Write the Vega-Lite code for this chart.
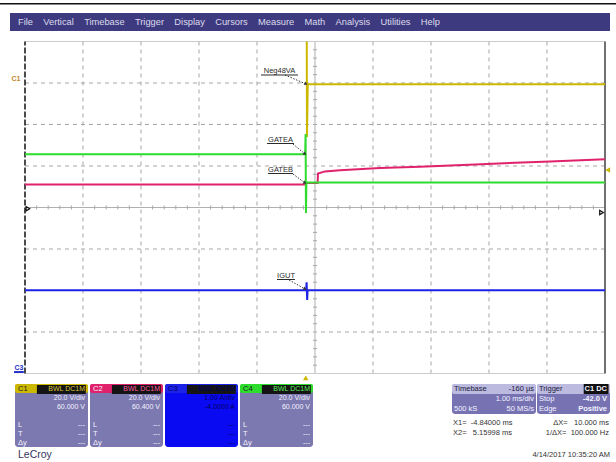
{
  "$schema": "https://vega.github.io/schema/vega-lite/v6.json",
  "padding": 0,
  "background": "white",
  "spacing": 0,
  "config": {"view": {"stroke": null}, "font": "Liberation Sans"},
  "datasets": {
    "traces": [
      {"ch": "C1", "t": 0.018, "v": 4.0},
      {"ch": "C1", "t": 0.022, "v": 1.7},
      {"ch": "C1", "t": 0.035, "v": 2.97},
      {"ch": "C1", "t": 5.16, "v": 2.97},
      {"ch": "C2", "t": -4.84, "v": 0.554},
      {"ch": "C2", "t": -0.005, "v": 0.554},
      {"ch": "C2", "t": 0.01, "v": 0.59},
      {"ch": "C2", "t": 0.205, "v": 0.59},
      {"ch": "C2", "t": 0.212, "v": 0.82},
      {"ch": "C2", "t": 0.332, "v": 0.87},
      {"ch": "C2", "t": 0.591, "v": 0.9},
      {"ch": "C2", "t": 1.281, "v": 0.95},
      {"ch": "C2", "t": 1.97, "v": 0.98},
      {"ch": "C2", "t": 3.126, "v": 1.05},
      {"ch": "C2", "t": 4.212, "v": 1.11},
      {"ch": "C2", "t": 5.16, "v": 1.16},
      {"ch": "C3", "t": -4.84, "v": -1.995},
      {"ch": "C3", "t": 0.008, "v": -1.995},
      {"ch": "C3", "t": 0.015, "v": -1.8},
      {"ch": "C3", "t": 0.025, "v": -2.23},
      {"ch": "C3", "t": 0.032, "v": -1.995},
      {"ch": "C3", "t": 5.16, "v": -1.995},
      {"ch": "C4", "t": -4.84, "v": 1.282},
      {"ch": "C4", "t": -0.01, "v": 1.282},
      {"ch": "C4", "t": -0.002, "v": 1.77},
      {"ch": "C4", "t": 0.004, "v": -0.13},
      {"ch": "C4", "t": 0.012, "v": 0.6},
      {"ch": "C4", "t": 5.16, "v": 0.6}
    ],
    "grid": [
      {"kind": "div", "t": -3.84, "t2": -3.84, "v": -4, "v2": 4},
      {"kind": "div", "t": -2.84, "t2": -2.84, "v": -4, "v2": 4},
      {"kind": "div", "t": -1.84, "t2": -1.84, "v": -4, "v2": 4},
      {"kind": "div", "t": -0.84, "t2": -0.84, "v": -4, "v2": 4},
      {"kind": "div", "t": 1.16, "t2": 1.16, "v": -4, "v2": 4},
      {"kind": "div", "t": 2.16, "t2": 2.16, "v": -4, "v2": 4},
      {"kind": "div", "t": 3.16, "t2": 3.16, "v": -4, "v2": 4},
      {"kind": "div", "t": 4.16, "t2": 4.16, "v": -4, "v2": 4},
      {"kind": "center", "t": 0.16, "t2": 0.16, "v": -4, "v2": 4},
      {"kind": "left", "t": -4.84, "t2": -4.84, "v": -4, "v2": 4},
      {"kind": "right", "t": 5.16, "t2": 5.16, "v": -4, "v2": 4},
      {"kind": "div", "t": -4.84, "t2": 5.16, "v": -3, "v2": -3},
      {"kind": "div", "t": -4.84, "t2": 5.16, "v": -2, "v2": -2},
      {"kind": "div", "t": -4.84, "t2": 5.16, "v": -1, "v2": -1},
      {"kind": "div", "t": -4.84, "t2": 5.16, "v": 1, "v2": 1},
      {"kind": "div", "t": -4.84, "t2": 5.16, "v": 2, "v2": 2},
      {"kind": "div", "t": -4.84, "t2": 5.16, "v": 3, "v2": 3},
      {"kind": "center", "t": -4.84, "t2": 5.16, "v": 0, "v2": 0},
      {"kind": "edge", "t": -4.84, "t2": 5.16, "v": 4, "v2": 4},
      {"kind": "edge", "t": -4.84, "t2": 5.16, "v": -4, "v2": -4}
    ],
    "ticks": [
      {"o": "h", "t": -4.64, "v": 0}, {"o": "h", "t": -4.44, "v": 0}, {"o": "h", "t": -4.24, "v": 0}, {"o": "h", "t": -4.04, "v": 0},
      {"o": "h", "t": -3.64, "v": 0}, {"o": "h", "t": -3.44, "v": 0}, {"o": "h", "t": -3.24, "v": 0}, {"o": "h", "t": -3.04, "v": 0},
      {"o": "h", "t": -2.64, "v": 0}, {"o": "h", "t": -2.44, "v": 0}, {"o": "h", "t": -2.24, "v": 0}, {"o": "h", "t": -2.04, "v": 0},
      {"o": "h", "t": -1.64, "v": 0}, {"o": "h", "t": -1.44, "v": 0}, {"o": "h", "t": -1.24, "v": 0}, {"o": "h", "t": -1.04, "v": 0},
      {"o": "h", "t": -0.64, "v": 0}, {"o": "h", "t": -0.44, "v": 0}, {"o": "h", "t": -0.24, "v": 0}, {"o": "h", "t": -0.04, "v": 0},
      {"o": "h", "t": 0.36, "v": 0}, {"o": "h", "t": 0.56, "v": 0}, {"o": "h", "t": 0.76, "v": 0}, {"o": "h", "t": 0.96, "v": 0},
      {"o": "h", "t": 1.36, "v": 0}, {"o": "h", "t": 1.56, "v": 0}, {"o": "h", "t": 1.76, "v": 0}, {"o": "h", "t": 1.96, "v": 0},
      {"o": "h", "t": 2.36, "v": 0}, {"o": "h", "t": 2.56, "v": 0}, {"o": "h", "t": 2.76, "v": 0}, {"o": "h", "t": 2.96, "v": 0},
      {"o": "h", "t": 3.36, "v": 0}, {"o": "h", "t": 3.56, "v": 0}, {"o": "h", "t": 3.76, "v": 0}, {"o": "h", "t": 3.96, "v": 0},
      {"o": "h", "t": 4.36, "v": 0}, {"o": "h", "t": 4.56, "v": 0}, {"o": "h", "t": 4.76, "v": 0}, {"o": "h", "t": 4.96, "v": 0},
      {"o": "v", "t": 0.16, "v": -3.8}, {"o": "v", "t": 0.16, "v": -3.6}, {"o": "v", "t": 0.16, "v": -3.4}, {"o": "v", "t": 0.16, "v": -3.2},
      {"o": "v", "t": 0.16, "v": -2.8}, {"o": "v", "t": 0.16, "v": -2.6}, {"o": "v", "t": 0.16, "v": -2.4}, {"o": "v", "t": 0.16, "v": -2.2},
      {"o": "v", "t": 0.16, "v": -1.8}, {"o": "v", "t": 0.16, "v": -1.6}, {"o": "v", "t": 0.16, "v": -1.4}, {"o": "v", "t": 0.16, "v": -1.2},
      {"o": "v", "t": 0.16, "v": -0.8}, {"o": "v", "t": 0.16, "v": -0.6}, {"o": "v", "t": 0.16, "v": -0.4}, {"o": "v", "t": 0.16, "v": -0.2},
      {"o": "v", "t": 0.16, "v": 0.2}, {"o": "v", "t": 0.16, "v": 0.4}, {"o": "v", "t": 0.16, "v": 0.6}, {"o": "v", "t": 0.16, "v": 0.8},
      {"o": "v", "t": 0.16, "v": 1.2}, {"o": "v", "t": 0.16, "v": 1.4}, {"o": "v", "t": 0.16, "v": 1.6}, {"o": "v", "t": 0.16, "v": 1.8},
      {"o": "v", "t": 0.16, "v": 2.2}, {"o": "v", "t": 0.16, "v": 2.4}, {"o": "v", "t": 0.16, "v": 2.6}, {"o": "v", "t": 0.16, "v": 2.8},
      {"o": "v", "t": 0.16, "v": 3.2}, {"o": "v", "t": 0.16, "v": 3.4}, {"o": "v", "t": 0.16, "v": 3.6}, {"o": "v", "t": 0.16, "v": 3.8}
    ],
    "labels": [
      {"label": "Neg48VA", "t": -0.452, "v": 3.229},
      {"label": "GATEA", "t": -0.435, "v": 1.578},
      {"label": "GATEB", "t": -0.435, "v": 0.855},
      {"label": "IGUT", "t": -0.34, "v": -1.699}
    ],
    "underlines": [
      {"kind": "lbl", "t": -0.771, "t2": -0.133, "v": 3.193},
      {"kind": "lbl", "t": -0.668, "t2": -0.202, "v": 1.542},
      {"kind": "lbl", "t": -0.65, "t2": -0.219, "v": 0.819},
      {"kind": "lbl", "t": -0.495, "t2": -0.185, "v": -1.735},
      {"kind": "c3", "t": -5.03, "t2": -4.86, "v": -3.965}
    ],
    "leaders": [
      {"t": -0.357, "v": 3.193, "t2": 0.005, "v2": 2.976},
      {"t": -0.219, "v": 1.53, "t2": -0.012, "v2": 1.289},
      {"t": -0.219, "v": 0.807, "t2": -0.012, "v2": 0.59},
      {"t": -0.288, "v": -1.747, "t2": -0.012, "v2": -1.964}
    ],
    "marks": [
      {"m": "c1lbl", "txt": "C1", "t": -4.995, "v": 3.05},
      {"m": "c3lbl", "txt": "C3", "t": -4.943, "v": -3.916},
      {"m": "lefttrig", "t": -4.79, "v": -0.03},
      {"m": "rightarrow", "t": 5.1, "v": -0.12},
      {"m": "triglevel", "t": 5.207, "v": 0.904},
      {"m": "trigpos", "t": 0.0, "v": -4.108}
    ],
    "chpanel": [
      {"ch": "C1", "line": "head", "left": "C1", "right": "BWL DC1M"},
      {"ch": "C1", "line": "scale", "left": "", "right": "20.0 V/div"},
      {"ch": "C1", "line": "offset", "left": "", "right": "60.000 V"},
      {"ch": "C1", "line": "L", "left": "L", "right": "---"},
      {"ch": "C1", "line": "T", "left": "T", "right": "---"},
      {"ch": "C1", "line": "dy", "left": "Δy", "right": "---"},
      {"ch": "C2", "line": "head", "left": "C2", "right": "BWL DC1M"},
      {"ch": "C2", "line": "scale", "left": "", "right": "20.0 V/div"},
      {"ch": "C2", "line": "offset", "left": "", "right": "60.400 V"},
      {"ch": "C2", "line": "L", "left": "L", "right": "---"},
      {"ch": "C2", "line": "T", "left": "T", "right": "---"},
      {"ch": "C2", "line": "dy", "left": "Δy", "right": "---"},
      {"ch": "C3", "line": "head", "left": "C3", "right": "BWL DC1M"},
      {"ch": "C3", "line": "scale", "left": "", "right": "1.00 A/div"},
      {"ch": "C3", "line": "offset", "left": "", "right": "-4.0000 A"},
      {"ch": "C3", "line": "L", "left": "", "right": "---"},
      {"ch": "C3", "line": "T", "left": "", "right": "---"},
      {"ch": "C3", "line": "dy", "left": "", "right": "---"},
      {"ch": "C4", "line": "head", "left": "C4", "right": "BWL DC1M"},
      {"ch": "C4", "line": "scale", "left": "", "right": "20.0 V/div"},
      {"ch": "C4", "line": "offset", "left": "", "right": "60.000 V"},
      {"ch": "C4", "line": "L", "left": "L", "right": "---"},
      {"ch": "C4", "line": "T", "left": "T", "right": "---"},
      {"ch": "C4", "line": "dy", "left": "Δy", "right": "---"}
    ],
    "acq": [
      {"panel": "tb", "line": "head", "left": "Timebase", "right": "-160 µs"},
      {"panel": "tb", "line": "r2", "left": "", "right": "1.00 ms/div"},
      {"panel": "tb", "line": "r3", "left": "500 kS", "right": "50 MS/s"},
      {"panel": "trig", "line": "head", "left": "Trigger", "right": "C1 DC"},
      {"panel": "trig", "line": "r2", "left": "Stop", "right": "-42.0 V"},
      {"panel": "trig", "line": "r3", "left": "Edge", "right": "Positive"}
    ],
    "cursors": [
      {"row": "X1", "a": "X1=\u00a0\u00a0-4.84000 ms", "b": "ΔX=\u00a0\u00a0\u00a010.000 ms"},
      {"row": "X2", "a": "X2=\u00a0\u00a0\u00a05.15998 ms", "b": "1/ΔX=\u00a0\u00a0100.000 Hz"}
    ],
    "footer": [
      {"side": "left", "txt": "LeCroy"},
      {"side": "right", "txt": "4/14/2017 10:35:20 AM"}
    ]
  },
  "vconcat": [
    {"width": 616, "height": 3, "data": {"values": []}, "mark": "point", "encoding": {}},
    {"width": 616, "height": 1.5, "view": {"fill": "#111111", "stroke": null}, "data": {"values": []}, "mark": "point", "encoding": {}},
    {"width": 616, "height": 7.5, "data": {"values": []}, "mark": "point", "encoding": {}},
    {
      "spacing": 2,
      "hconcat": [
        {"width": 8, "height": 1, "data": {"values": []}, "mark": "point", "encoding": {}},
        {
          "width": 600, "height": 18,
          "view": {"fill": "#3e3a7f", "stroke": null},
          "data": {"values": [{"menu": "File\u00a0\u00a0\u00a0\u00a0Vertical\u00a0\u00a0\u00a0\u00a0Timebase\u00a0\u00a0\u00a0\u00a0Trigger\u00a0\u00a0\u00a0\u00a0Display\u00a0\u00a0\u00a0\u00a0Cursors\u00a0\u00a0\u00a0\u00a0Measure\u00a0\u00a0\u00a0\u00a0Math\u00a0\u00a0\u00a0\u00a0Analysis\u00a0\u00a0\u00a0\u00a0Utilities\u00a0\u00a0\u00a0\u00a0Help"}]},
          "mark": {"type": "text", "align": "left", "baseline": "middle", "dx": 8, "fontSize": 9.3, "color": "#dcdcee"},
          "encoding": {
            "text": {"field": "menu"},
            "x": {"datum": 0, "type": "quantitative", "scale": {"domain": [0, 1]}, "axis": null}
          }
        }
      ]
    },
    {
      "spacing": 2,
      "hconcat": [
        {"width": 8, "height": 1, "data": {"values": []}, "mark": "point", "encoding": {}},
        {
          "width": 600, "height": 353,
          "encoding": {
            "x": {"field": "t", "type": "quantitative", "scale": {"domain": [-5.09862, 5.24621], "nice": false, "zero": false}, "axis": null},
            "y": {"field": "v", "type": "quantitative", "scale": {"domain": [-4.253, 4.253], "nice": false, "zero": false}, "axis": null}
          },
          "layer": [
            {
              "data": {"name": "grid"},
              "transform": [{"filter": "datum.kind == 'div'"}],
              "mark": {"type": "rule", "color": "#a6a6a6", "strokeDash": [4, 4], "strokeWidth": 1},
              "encoding": {"x2": {"field": "t2"}, "y2": {"field": "v2"}}
            },
            {
              "data": {"name": "grid"},
              "transform": [{"filter": "datum.kind == 'center'"}],
              "mark": {"type": "rule", "color": "#b0b0b0", "strokeWidth": 1},
              "encoding": {"x2": {"field": "t2"}, "y2": {"field": "v2"}}
            },
            {
              "data": {"name": "grid"},
              "transform": [{"filter": "datum.kind == 'edge'"}],
              "mark": {"type": "rule", "color": "#cccccc", "strokeWidth": 1},
              "encoding": {"x2": {"field": "t2"}, "y2": {"field": "v2"}}
            },
            {
              "data": {"name": "grid"},
              "transform": [{"filter": "datum.kind == 'left'"}],
              "mark": {"type": "rule", "color": "#111111", "strokeDash": [6, 2], "strokeWidth": 1.5},
              "encoding": {"x2": {"field": "t2"}, "y2": {"field": "v2"}}
            },
            {
              "data": {"name": "grid"},
              "transform": [{"filter": "datum.kind == 'right'"}],
              "mark": {"type": "rule", "color": "#707070", "strokeWidth": 2},
              "encoding": {"x2": {"field": "t2"}, "y2": {"field": "v2"}}
            },
            {
              "data": {"name": "ticks"},
              "transform": [{"filter": "datum.o == 'h'"}],
              "mark": {"type": "tick", "orient": "vertical", "size": 4, "thickness": 1, "color": "#a8a8a8", "opacity": 1},
              "encoding": {}
            },
            {
              "data": {"name": "ticks"},
              "transform": [{"filter": "datum.o == 'v'"}],
              "mark": {"type": "tick", "orient": "horizontal", "size": 4, "thickness": 1, "color": "#a8a8a8", "opacity": 1},
              "encoding": {}
            },
            {
              "data": {"name": "traces"},
              "mark": {"type": "line", "strokeWidth": 2},
              "encoding": {
                "color": {"field": "ch", "type": "nominal", "scale": {"domain": ["C1", "C2", "C3", "C4"], "range": ["#cdb800", "#e0226c", "#1c22e6", "#2edc2e"]}, "legend": null}
              }
            },
            {
              "data": {"name": "labels"},
              "mark": {"type": "text", "align": "center", "baseline": "alphabetic", "fontSize": 7.5, "color": "#2a2a2a"},
              "encoding": {"text": {"field": "label"}}
            },
            {
              "data": {"name": "underlines"},
              "transform": [{"filter": "datum.kind == 'lbl'"}],
              "mark": {"type": "rule", "color": "#2a2a2a", "strokeWidth": 1},
              "encoding": {"x2": {"field": "t2"}}
            },
            {
              "data": {"name": "underlines"},
              "transform": [{"filter": "datum.kind == 'c3'"}],
              "mark": {"type": "rule", "color": "#2630c8", "strokeWidth": 2},
              "encoding": {"x2": {"field": "t2"}}
            },
            {
              "data": {"name": "leaders"},
              "mark": {"type": "rule", "color": "#333333", "strokeWidth": 1, "strokeDash": [1.5, 1.5]},
              "encoding": {"x2": {"field": "t2"}, "y2": {"field": "v2"}}
            },
            {
              "data": {"name": "leaders"},
              "mark": {"type": "point", "shape": "triangle-right", "filled": true, "size": 14, "angle": 32, "color": "#333333", "opacity": 1},
              "encoding": {
                "x": {"field": "t2", "type": "quantitative", "scale": {"domain": [-5.09862, 5.24621], "nice": false, "zero": false}, "axis": null},
                "y": {"field": "v2", "type": "quantitative", "scale": {"domain": [-4.253, 4.253], "nice": false, "zero": false}, "axis": null}
              }
            },
            {
              "data": {"name": "marks"},
              "transform": [{"filter": "datum.m == 'c1lbl'"}],
              "mark": {"type": "text", "align": "center", "baseline": "alphabetic", "fontSize": 7, "fontWeight": "bold", "color": "#c4862c"},
              "encoding": {"text": {"field": "txt"}}
            },
            {
              "data": {"name": "marks"},
              "transform": [{"filter": "datum.m == 'c3lbl'"}],
              "mark": {"type": "text", "align": "center", "baseline": "alphabetic", "fontSize": 7, "fontWeight": "bold", "color": "#2630c8"},
              "encoding": {"text": {"field": "txt"}}
            },
            {
              "data": {"name": "marks"},
              "transform": [{"filter": "datum.m == 'lefttrig' || datum.m == 'rightarrow'"}],
              "mark": {"type": "point", "shape": "triangle-right", "filled": false, "size": 18, "color": "#111111", "strokeWidth": 1.2, "opacity": 1},
              "encoding": {}
            },
            {
              "data": {"name": "marks"},
              "transform": [{"filter": "datum.m == 'triglevel'"}],
              "mark": {"type": "point", "shape": "triangle-left", "filled": true, "size": 30, "color": "#cdb800", "opacity": 1},
              "encoding": {}
            },
            {
              "data": {"name": "marks"},
              "transform": [{"filter": "datum.m == 'trigpos'"}],
              "mark": {"type": "point", "shape": "triangle-up", "filled": true, "size": 30, "color": "#cdb800", "opacity": 1},
              "encoding": {}
            }
          ]
        }
      ]
    },
    {
      "spacing": 2,
      "hconcat": [
        {"width": 13, "height": 1, "data": {"values": []}, "mark": "point", "encoding": {}},
        {
          "data": {"name": "chpanel"},
          "facet": {"column": {"field": "ch", "type": "nominal", "header": null, "sort": ["C1", "C2", "C3", "C4"]}},
          "spacing": 2,
          "spec": {
            "width": 73, "height": 63,
            "layer": [
              {
                "transform": [{"filter": "datum.line == 'head'"}],
                "mark": {"type": "rect", "cornerRadius": 3},
                "encoding": {"color": {"condition": {"test": "datum.ch == 'C3'", "value": "#0a0af2"}, "value": "#7c78b0"}}
              },
              {
                "transform": [{"filter": "datum.line == 'head'"}],
                "mark": {"type": "rect", "cornerRadius": 2},
                "encoding": {
                  "y": {"field": "line", "type": "nominal", "scale": {"domain": ["head", "scale", "offset", "gap", "L", "T", "dy"], "paddingInner": 0, "paddingOuter": 0}, "axis": null},
                  "color": {"field": "ch", "type": "nominal", "scale": {"domain": ["C1", "C2", "C3", "C4"], "range": ["#b7a523", "#e01a6e", "#1010f0", "#35d835"]}, "legend": null}
                }
              },
              {
                "transform": [{"filter": "datum.line == 'head'"}],
                "mark": {"type": "rect", "color": "#141414", "yOffset": 1, "y2Offset": -1},
                "encoding": {
                  "y": {"field": "line", "type": "nominal", "scale": {"domain": ["head", "scale", "offset", "gap", "L", "T", "dy"], "paddingInner": 0, "paddingOuter": 0}, "axis": null},
                  "x": {"datum": 0.3, "type": "quantitative", "scale": {"domain": [0, 1]}, "axis": null},
                  "x2": {"datum": 0.97}
                }
              },
              {
                "mark": {"type": "text", "align": "left", "baseline": "middle", "dx": 3, "fontSize": 7.5},
                "encoding": {
                  "y": {"field": "line", "type": "nominal", "scale": {"domain": ["head", "scale", "offset", "gap", "L", "T", "dy"], "paddingInner": 0, "paddingOuter": 0}, "axis": null},
                  "x": {"datum": 0, "type": "quantitative", "scale": {"domain": [0, 1]}, "axis": null},
                  "text": {"field": "left"},
                  "color": {"condition": [{"test": "datum.ch == 'C3'", "value": "#000060"}, {"test": "datum.line == 'head' && datum.ch != 'C2'", "value": "#1a1a1a"}], "value": "#f4f4ff"}
                }
              },
              {
                "mark": {"type": "text", "align": "right", "baseline": "middle", "dx": -3, "fontSize": 7},
                "encoding": {
                  "y": {"field": "line", "type": "nominal", "scale": {"domain": ["head", "scale", "offset", "gap", "L", "T", "dy"], "paddingInner": 0, "paddingOuter": 0}, "axis": null},
                  "x": {"datum": 1, "type": "quantitative", "scale": {"domain": [0, 1]}, "axis": null},
                  "text": {"field": "right"},
                  "color": {"condition": [
                    {"test": "datum.ch == 'C3'", "value": "#000060"},
                    {"test": "datum.line == 'head' && datum.ch == 'C1'", "value": "#d9c73c"},
                    {"test": "datum.line == 'head' && datum.ch == 'C2'", "value": "#ff5aa0"},
                    {"test": "datum.line == 'head' && datum.ch == 'C4'", "value": "#5cf05c"}
                  ], "value": "#f4f4ff"}
                }
              }
            ]
          }
        },
        {"width": 135, "height": 1, "data": {"values": []}, "mark": "point", "encoding": {}},
        {
          "spacing": 0,
          "vconcat": [
            {
              "spacing": 1,
              "hconcat": [
                {
                  "width": 84, "height": 30,
                  "data": {"name": "acq"},
                  "transform": [{"filter": "datum.panel == 'tb'"}],
                  "layer": [
                    {"transform": [{"filter": "datum.line == 'head'"}], "mark": {"type": "rect", "cornerRadius": 3, "color": "#7773b3"}, "encoding": {}},
                    {"transform": [{"filter": "datum.line == 'head'"}], "mark": {"type": "rect", "cornerRadius": 2, "color": "#bdbadf"},
                      "encoding": {"y": {"field": "line", "type": "nominal", "scale": {"domain": ["head", "r2", "r3"], "paddingInner": 0, "paddingOuter": 0}, "axis": null}}},
                    {"mark": {"type": "text", "align": "left", "baseline": "middle", "dx": 2, "fontSize": 7.5},
                      "encoding": {
                        "y": {"field": "line", "type": "nominal", "scale": {"domain": ["head", "r2", "r3"], "paddingInner": 0, "paddingOuter": 0}, "axis": null},
                        "x": {"datum": 0, "type": "quantitative", "scale": {"domain": [0, 1]}, "axis": null},
                        "text": {"field": "left"},
                        "color": {"condition": {"test": "datum.line == 'head'", "value": "#202040"}, "value": "#f4f4ff"}}},
                    {"mark": {"type": "text", "align": "right", "baseline": "middle", "dx": -2, "fontSize": 7.5},
                      "encoding": {
                        "y": {"field": "line", "type": "nominal", "scale": {"domain": ["head", "r2", "r3"], "paddingInner": 0, "paddingOuter": 0}, "axis": null},
                        "x": {"datum": 1, "type": "quantitative", "scale": {"domain": [0, 1]}, "axis": null},
                        "text": {"field": "right"},
                        "color": {"condition": {"test": "datum.line == 'head'", "value": "#202040"}, "value": "#f4f4ff"}}}
                  ]
                },
                {
                  "width": 73, "height": 30,
                  "data": {"name": "acq"},
                  "transform": [{"filter": "datum.panel == 'trig'"}],
                  "layer": [
                    {"transform": [{"filter": "datum.line == 'head'"}], "mark": {"type": "rect", "cornerRadius": 3, "color": "#7773b3"}, "encoding": {}},
                    {"transform": [{"filter": "datum.line == 'head'"}], "mark": {"type": "rect", "cornerRadius": 2, "color": "#bdbadf"},
                      "encoding": {"y": {"field": "line", "type": "nominal", "scale": {"domain": ["head", "r2", "r3"], "paddingInner": 0, "paddingOuter": 0}, "axis": null}}},
                    {"transform": [{"filter": "datum.line == 'head'"}], "mark": {"type": "rect", "color": "#111111"},
                      "encoding": {
                        "y": {"field": "line", "type": "nominal", "scale": {"domain": ["head", "r2", "r3"], "paddingInner": 0, "paddingOuter": 0}, "axis": null},
                        "x": {"datum": 0.64, "type": "quantitative", "scale": {"domain": [0, 1]}, "axis": null},
                        "x2": {"datum": 0.98}}},
                    {"mark": {"type": "text", "align": "left", "baseline": "middle", "dx": 2, "fontSize": 7.5},
                      "encoding": {
                        "y": {"field": "line", "type": "nominal", "scale": {"domain": ["head", "r2", "r3"], "paddingInner": 0, "paddingOuter": 0}, "axis": null},
                        "x": {"datum": 0, "type": "quantitative", "scale": {"domain": [0, 1]}, "axis": null},
                        "text": {"field": "left"},
                        "color": {"condition": {"test": "datum.line == 'head'", "value": "#202040"}, "value": "#f4f4ff"}}},
                    {"mark": {"type": "text", "align": "right", "baseline": "middle", "dx": -3, "fontSize": 7.5, "fontWeight": "bold"},
                      "encoding": {
                        "y": {"field": "line", "type": "nominal", "scale": {"domain": ["head", "r2", "r3"], "paddingInner": 0, "paddingOuter": 0}, "axis": null},
                        "x": {"datum": 1, "type": "quantitative", "scale": {"domain": [0, 1]}, "axis": null},
                        "text": {"field": "right"},
                        "color": {"value": "#f4f4ff"}}}
                  ]
                }
              ]
            },
            {
              "width": 158, "height": 28,
              "data": {"name": "cursors"},
              "layer": [
                {"mark": {"type": "text", "align": "left", "baseline": "middle", "dx": 1, "fontSize": 7.5, "color": "#333333"},
                  "encoding": {
                    "y": {"field": "row", "type": "nominal", "scale": {"type": "point", "domain": ["X1", "X2"], "padding": 1.17}, "axis": null},
                    "x": {"datum": 0, "type": "quantitative", "scale": {"domain": [0, 1]}, "axis": null},
                    "text": {"field": "a"}}},
                {"mark": {"type": "text", "align": "right", "baseline": "middle", "dx": -1, "fontSize": 7.5, "color": "#333333"},
                  "encoding": {
                    "y": {"field": "row", "type": "nominal", "scale": {"type": "point", "domain": ["X1", "X2"], "padding": 1.17}, "axis": null},
                    "x": {"datum": 1, "type": "quantitative", "scale": {"domain": [0, 1]}, "axis": null},
                    "text": {"field": "b"}}}
              ]
            }
          ]
        }
      ]
    },
    {
      "spacing": 2,
      "hconcat": [
        {"width": 8, "height": 1, "data": {"values": []}, "mark": "point", "encoding": {}},
        {
          "width": 600, "height": 16,
          "data": {"name": "footer"},
          "layer": [
            {"transform": [{"filter": "datum.side == 'left'"}],
              "mark": {"type": "text", "align": "left", "baseline": "middle", "dx": 8, "fontSize": 10.5, "color": "#34345e"},
              "encoding": {"x": {"datum": 0, "type": "quantitative", "scale": {"domain": [0, 1]}, "axis": null}, "text": {"field": "txt"}}},
            {"transform": [{"filter": "datum.side == 'right'"}],
              "mark": {"type": "text", "align": "right", "baseline": "middle", "fontSize": 7.5, "color": "#333333"},
              "encoding": {"x": {"datum": 1, "type": "quantitative", "scale": {"domain": [0, 1]}, "axis": null}, "text": {"field": "txt"}}}
          ]
        }
      ]
    }
  ]
}
